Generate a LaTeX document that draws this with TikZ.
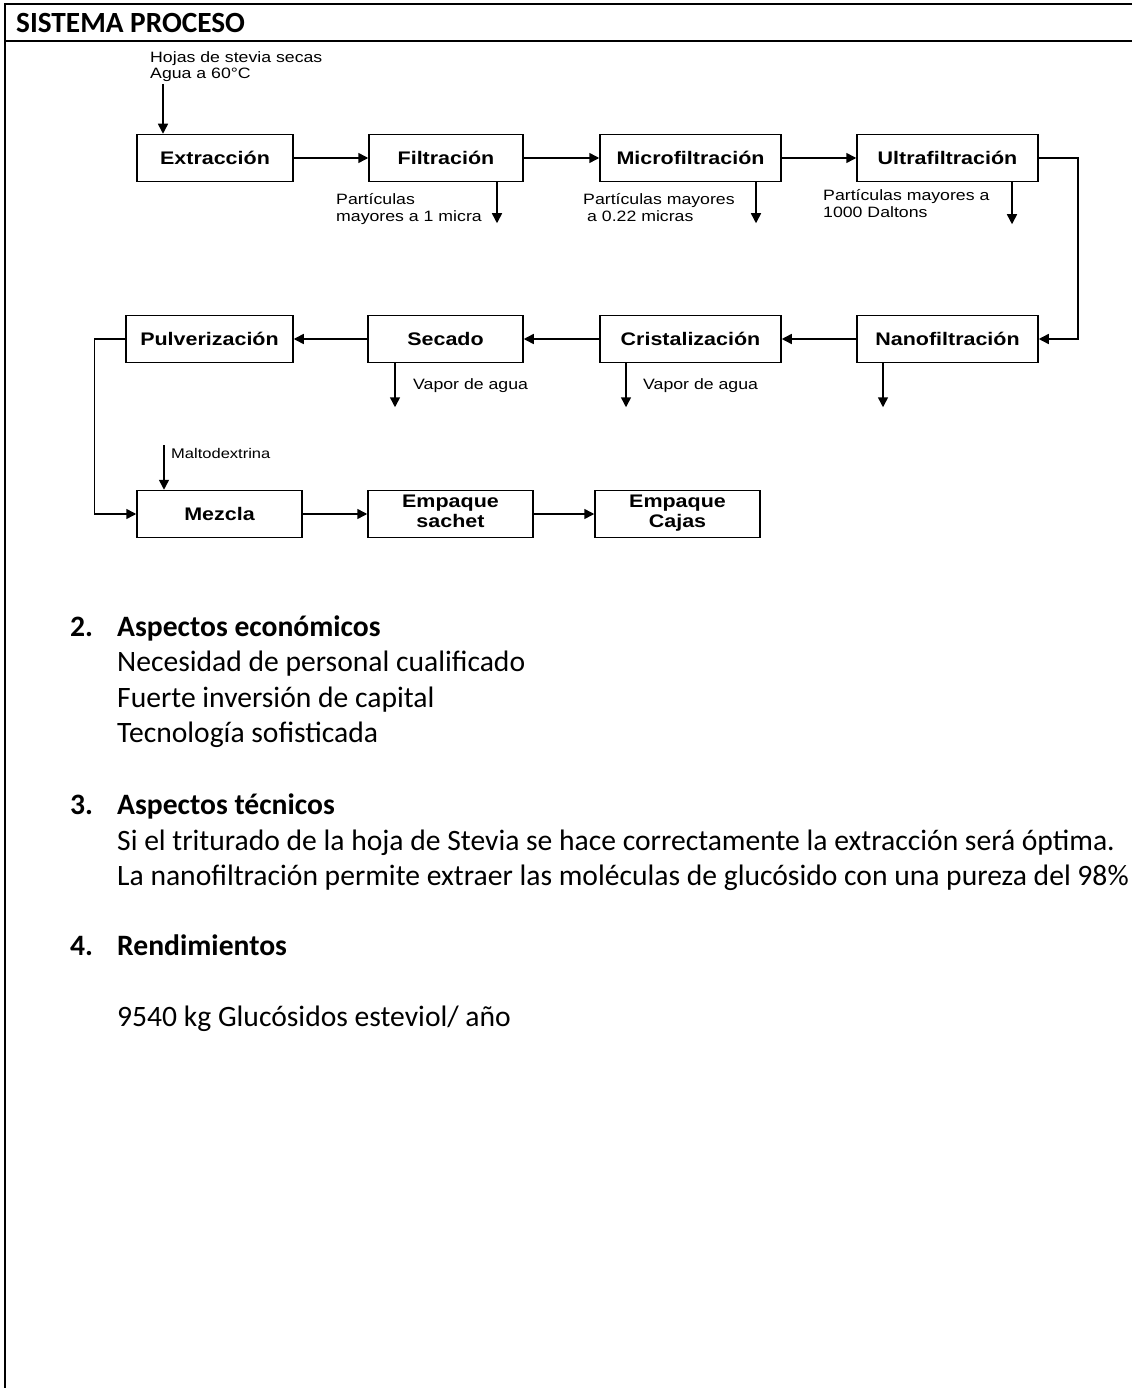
\documentclass[tikz,border=0pt]{standalone}
\usepackage{fontspec}
\setmainfont{Carlito}
\newfontfamily\diag[FakeStretch=1.18]{Liberation Sans}
\usetikzlibrary{arrows.meta}
\begin{document}
\begin{tikzpicture}[x=1pt,y=-1pt,
  box/.style={draw, line width=1.5pt, minimum height=47pt, inner sep=0pt, align=center,
    font=\diag\bfseries\fontsize{18.2}{20}\selectfont},
  lab/.style={anchor=west, align=left, inner sep=0pt, font=\diag\fontsize{15}{17}\selectfont},
  conn/.style={line width=1.5pt, -{Triangle[width=10pt,length=10pt]}},
  body/.style={anchor=base west, inner sep=0pt, font=\fontsize{29.6}{35}\selectfont},
  frame/.style={line width=2.2pt}
]
\useasboundingbox (0,0) rectangle (1132,1388);

% frame
\draw[frame] (1132,4) -- (5,4) -- (5,1388);
\draw[frame] (5,41) -- (1132,41);
\node[body, font=\bfseries\fontsize{29.3}{35}\selectfont] (title) at (16,33) {SISTEMA PROCESO};

% boxes row 1
\node[box, minimum width=156pt] (ext) at (215,158) {Extracción};
\node[box, minimum width=154pt] (fil) at (446,158) {Filtración};
\node[box, minimum width=181pt] (mic) at (690.5,158) {Microfiltración};
\node[box, minimum width=181pt] (ult) at (947.5,158) {Ultrafiltración};
% row 2
\node[box, minimum width=181pt] (nan) at (947.5,339) {Nanofiltración};
\node[box, minimum width=181pt] (cri) at (690.5,339) {Cristalización};
\node[box, minimum width=155pt] (sec) at (445.5,339) {Secado};
\node[box, minimum width=167pt] (pul) at (209.5,339) {Pulverización};
% row 3
\node[box, minimum width=165pt] (mez) at (219.5,514) {Mezcla};
\node[box, minimum width=165pt] (sac) at (450.5,514) {Empaque\\sachet\strut};
\node[box, minimum width=165pt] (caj) at (677.5,514) {Empaque\\Cajas\strut};

% inputs
\node[lab, font=\diag\fontsize{15}{16}\selectfont] (lhoj) at (150,67) {Hojas de stevia secas\\Agua a 60°C};
\coordinate (inA) at (163,84);
\draw[conn] (inA) -- (inA |- ext.north);
\node[lab, font=\diag\fontsize{14}{16}\selectfont] (lmal) at (171,453) {Maltodextrina};
\coordinate (inB) at (164,445);
\draw[conn] (inB) -- (inB |- mez.north);

% main flow
\draw[conn] (ext) -- (fil);
\draw[conn] (fil) -- (mic);
\draw[conn] (mic) -- (ult);
\draw[conn] (ult.east) -- ++(39,0) |- (nan.east);
\draw[conn] (nan) -- (cri);
\draw[conn] (cri) -- (sec);
\draw[conn] (sec) -- (pul);
\draw[conn] (pul.west) -- ++(-31,0) |- (mez.west);
\draw[conn] (mez) -- (sac);
\draw[conn] (sac) -- (caj);

% outputs row 1
\draw[conn] (fil.south) ++(51,0) -- ++(0,41);
\node[lab] (lfil) at (336,209) {Partículas\\mayores a 1 micra};
\draw[conn] (mic.south) ++(65.5,0) -- ++(0,41);
\node[lab] (lmic) at (583,208) {Partículas mayores\\\hspace{4pt}a 0.22 micras};
\draw[conn] (ult.south) ++(64.5,0) -- ++(0,42);
\node[lab] (lult) at (823,204) {Partículas mayores a\\1000 Daltons};
% outputs row 2
\draw[conn] (nan.south) ++(-64.5,0) -- ++(0,44);
\draw[conn] (cri.south) ++(-64.5,0) -- ++(0,44);
\node[lab] (lcri) at (643,386) {Vapor de agua};
\draw[conn] (sec.south) ++(-50.5,0) -- ++(0,44);
\node[lab] (lsec) at (413,386) {Vapor de agua};

% text
\node[body] (n2) at (70,636) {\bfseries 2.};
\node[body] (h2) at (117,636) {\bfseries Aspectos económicos};
\node[body] (t21) at (117,671) {Necesidad de personal cualificado};
\node[body] (t22) at (117,707) {Fuerte inversión de capital};
\node[body] (t23) at (117,742) {Tecnología sofisticada};
\node[body] (n3) at (70,814) {\bfseries 3.};
\node[body] (h3) at (117,814) {\bfseries Aspectos técnicos};
\node[body] (t31) at (117,850) {Si el triturado de la hoja de Stevia se hace correctamente la extracción será óptima.};
\node[body] (t32) at (117,885) {La nanofiltración permite extraer las moléculas de glucósido con una pureza del 98\%};
\node[body] (n4) at (70,955) {\bfseries 4.};
\node[body] (h4) at (117,955) {\bfseries Rendimientos};
\node[body] (t41) at (117,1026) {9540 kg Glucósidos esteviol/ año};
\end{tikzpicture}
\end{document}
